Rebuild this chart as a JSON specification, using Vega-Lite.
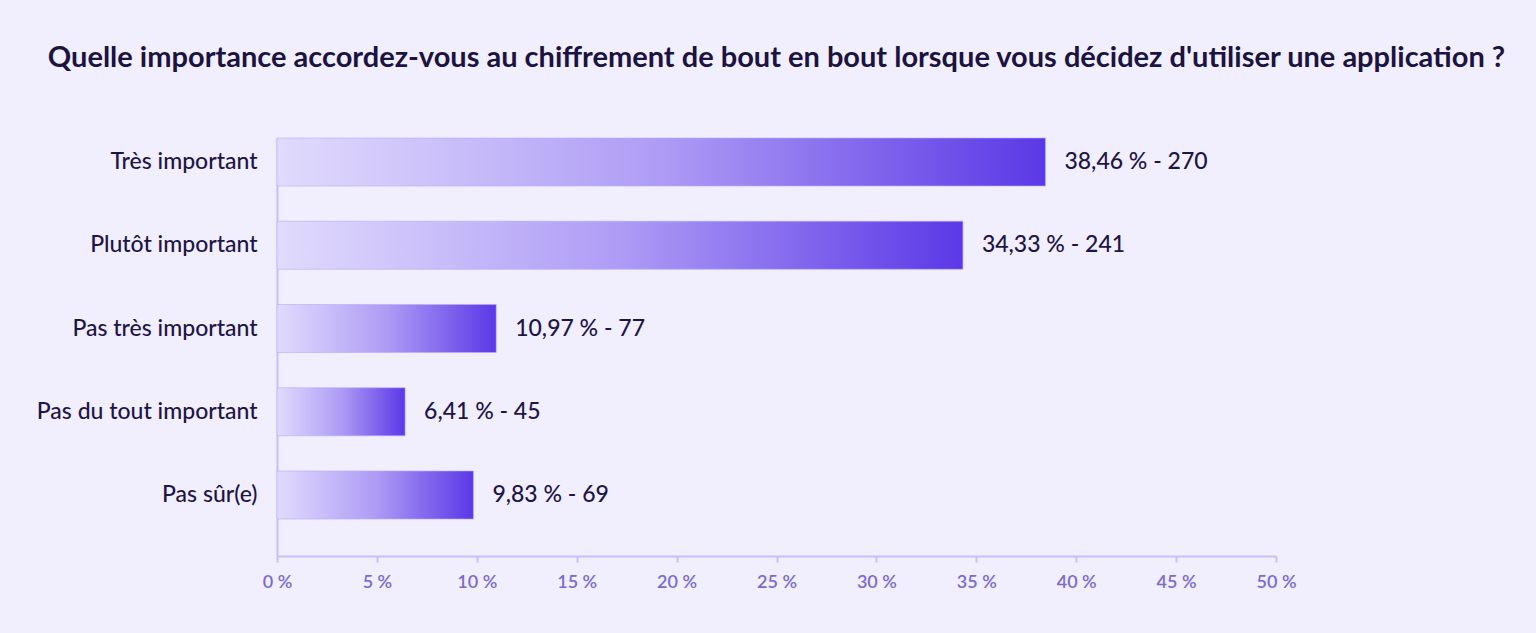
{
  "$schema": "https://vega.github.io/schema/vega-lite/v6.json",
  "autosize": {"type": "none"},
  "width": 999,
  "height": 418,
  "padding": {"left": 277, "top": 138, "right": 260, "bottom": 77},
  "background": "#f1eefd",
  "title": {
    "text": "Quelle importance accordez-vous au chiffrement de bout en bout lorsque vous décidez d'utiliser une application ?",
    "anchor": "middle",
    "frame": "group",
    "font": "Lato",
    "fontSize": 29,
    "fontWeight": "bold",
    "color": "#1b1340",
    "baseline": "alphabetic",
    "offset": 42,
    "limit": 1600
  },
  "config": {
    "view": {"stroke": null},
    "font": "Lato"
  },
  "data": {
    "values": [
      {"cat": "Très important", "pct": 38.46, "n": 270, "label": "38,46 % - 270"},
      {"cat": "Plutôt important", "pct": 34.33, "n": 241, "label": "34,33 % - 241"},
      {"cat": "Pas très important", "pct": 10.97, "n": 77, "label": "10,97 % - 77"},
      {"cat": "Pas du tout important", "pct": 6.41, "n": 45, "label": "6,41 % - 45"},
      {"cat": "Pas sûr(e)", "pct": 9.83, "n": 69, "label": "9,83 % - 69"}
    ]
  },
  "encoding": {
    "y": {
      "field": "cat",
      "type": "nominal",
      "sort": null,
      "title": null,
      "scale": {"paddingInner": 0.4234, "paddingOuter": 0.222, "align": 0},
      "axis": {
        "ticks": false,
        "domainColor": "#c8befa",
        "domainWidth": 2,
        "labelFont": "Lato",
        "labelFontSize": 23,
        "labelFontWeight": 500,
        "labelColor": "#1e1547",
        "labelPadding": 20,
        "labelLimit": 300
      }
    },
    "x": {
      "field": "pct",
      "type": "quantitative",
      "title": null,
      "scale": {"domain": [0, 50], "nice": false},
      "axis": {
        "values": [0, 5, 10, 15, 20, 25, 30, 35, 40, 45, 50],
        "labelExpr": "datum.value + ' %'",
        "labelFlush": false,
        "labelOverlap": false,
        "grid": false,
        "domainColor": "#c8befa",
        "domainWidth": 2,
        "tickColor": "#c8befa",
        "tickWidth": 2,
        "tickSize": 6,
        "labelFont": "Lato",
        "labelFontSize": 18,
        "labelFontWeight": 600,
        "labelColor": "#7b6bcc",
        "labelPadding": 11
      }
    }
  },
  "layer": [
    {
      "mark": {
        "type": "bar",
        "stroke": "#b8aaf6",
        "strokeWidth": 1,
        "strokeOpacity": 0.6,
        "fill": {
          "gradient": "linear",
          "x1": 0, "y1": 0, "x2": 1, "y2": 0,
          "stops": [
            {"offset": 0, "color": "#e1dbfd"},
            {"offset": 0.5, "color": "#ae9cf5"},
            {"offset": 1, "color": "#5b38e6"}
          ]
        }
      }
    },
    {
      "mark": {
        "type": "text",
        "align": "left",
        "baseline": "middle",
        "dx": 19,
        "font": "Lato",
        "fontSize": 23,
        "fontWeight": 500,
        "color": "#1e1547"
      },
      "encoding": {"text": {"field": "label"}}
    }
  ]
}
